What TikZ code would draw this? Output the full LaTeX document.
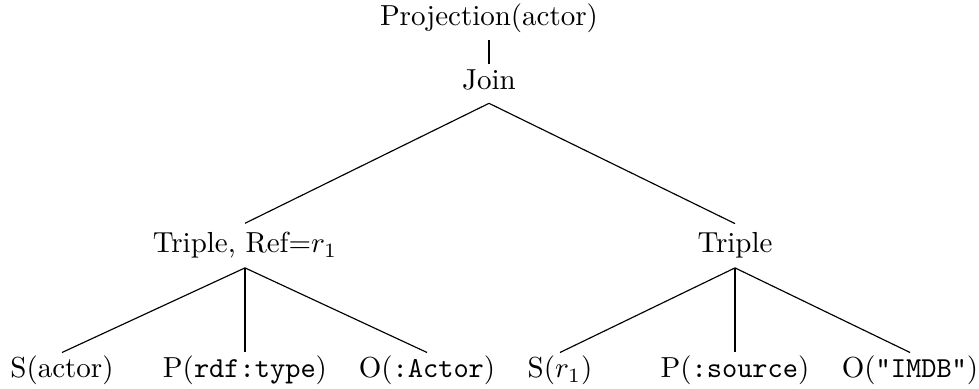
\documentclass[tikz,border=0pt]{standalone}
\begin{document}
\begin{tikzpicture}[x=0.345pt,y=-0.345pt,
  tn/.style={anchor=base,inner xsep=0.3333em,inner ysep=2.2pt},
  joinnode/.style={tn,text depth=2.3pt,inner ysep=2.1pt},
  triplenode/.style={tn,inner ysep=3pt},
  leafnode/.style={tn,inner ysep=1.1pt},
  edge/.style={draw=black,line width=0.4pt}]
\useasboundingbox (0,0) rectangle (979,389);
\node[tn] (proj) at (489,26) {Projection(actor)};
\node[joinnode] (join) at (489,90) {Join};
\node[triplenode] (t1) at (245,253) {Triple, Ref=$r_1$};
\node[triplenode] (t2) at (735,253) {Triple};
\node[leafnode] (s1) at (62,378) {S(actor)};
\node[leafnode] (p1) at (245,378) {P(\texttt{rdf:type})};
\node[leafnode] (o1) at (427,378) {O(\texttt{:Actor})};
\node[leafnode] (s2) at (560,378) {S($r_1$)};
\node[leafnode] (p2) at (735,378) {P(\texttt{:source})};
\node[leafnode] (o2) at (910,378) {O(\texttt{"IMDB"})};
\draw[edge] (proj.south) -- (join.north);
\draw[edge] (join.south) -- (t1.north);
\draw[edge] (join.south) -- (t2.north);
\draw[edge] (t1.south) -- (s1.north);
\draw[edge] (t1.south) -- (p1.north);
\draw[edge] (t1.south) -- (o1.north);
\draw[edge] (t2.south) -- (s2.north);
\draw[edge] (t2.south) -- (p2.north);
\draw[edge] (t2.south) -- (o2.north);
\end{tikzpicture}
\end{document}
